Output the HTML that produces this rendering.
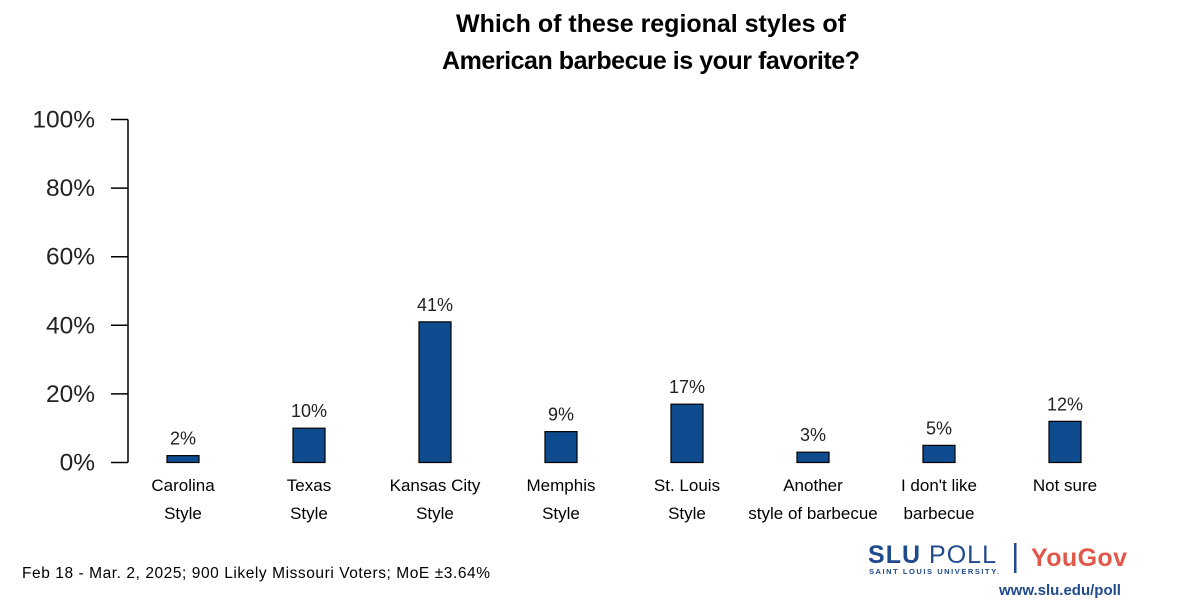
<!DOCTYPE html>
<html><head><meta charset="utf-8"><style>
body{margin:0;background:#fff;width:1200px;height:600px;overflow:hidden;font-family:"Liberation Sans",sans-serif}
svg text{font-family:"Liberation Sans",sans-serif}
</style></head><body>
<svg width="1200" height="600">
<text x="651" y="32" text-anchor="middle" font-size="25" font-weight="bold" fill="#000" textLength="390">Which of these regional styles of</text>
<text x="651" y="69" text-anchor="middle" font-size="25" font-weight="bold" fill="#000" textLength="418">American barbecue is your favorite?</text>
<g id="axis"></g>
<g id="bars"></g>
<text x="22" y="578" font-size="15.5" fill="#000" textLength="468">Feb 18 - Mar. 2, 2025; 900 Likely Missouri Voters; MoE ±3.64%</text>
<g>
<text x="868" y="563" font-size="25" fill="#1f4a8c" font-weight="bold" textLength="128">SLU <tspan font-weight="normal">POLL</tspan></text>
<text x="869" y="574" font-size="7.5" fill="#1f4a8c" font-weight="bold" textLength="130">SAINT LOUIS UNIVERSITY.</text>
<rect x="1014" y="543" width="2.5" height="30" fill="#1f4a8c"/>
<text x="1031" y="566" font-size="25" fill="#e0584a" font-weight="bold" textLength="96">YouGov</text>
<text x="999" y="595" font-size="15" fill="#1f4a8c" font-weight="bold">www.slu.edu/poll</text>
</g>
</svg>
<script>
const categories=[["Carolina","Style"],["Texas","Style"],["Kansas City","Style"],["Memphis","Style"],["St. Louis","Style"],["Another","style of barbecue"],["I don't like","barbecue"],["Not sure"]];
const values=[2,10,41,9,17,3,5,12];
const ticks=[0,20,40,60,80,100];
const NS="http://www.w3.org/2000/svg";
const y0=462.5,y100=119.5;
function y(v){return y0-(y0-y100)*v/100;}
function x(i){return 183+126*i;}
function mk(tag,attrs,parent){const e=document.createElementNS(NS,tag);for(const k in attrs)e.setAttribute(k,attrs[k]);parent.appendChild(e);return e;}
const ax=document.getElementById('axis'),bg=document.getElementById('bars');
let l=mk('line',{x1:128,x2:128,y1:y(100),y2:y(0),stroke:'#000','stroke-width':1.5},ax);


ticks.forEach(t=>{
 const tk=mk('line',{x1:111,x2:128,y1:y(t),y2:y(t),stroke:'#000','stroke-width':1.5},ax);
 
 
 const tx=mk('text',{x:95,y:y(t)+8,'text-anchor':'end','font-size':24.5,fill:'#222'},ax);
 tx.textContent=t+'%';
 
 
});
values.forEach((v,i)=>{
 const r=mk('rect',{x:x(i)-16,y:y(v),width:32,height:y(0)-y(v),fill:'#0f4c8f',stroke:'#000','stroke-width':1.2},bg);
 
 
 const lb=mk('text',{x:x(i),y:y(v)-11,'text-anchor':'middle','font-size':18,fill:'#222'},bg);
 lb.textContent=v+'%';
 
 
 categories[i].forEach((s,j)=>{
  const c=mk('text',{x:x(i),y:491+28*j,'text-anchor':'middle','font-size':17,fill:'#000'},bg);
  c.textContent=s;
  
  
 });
});
</script>
</body></html>
